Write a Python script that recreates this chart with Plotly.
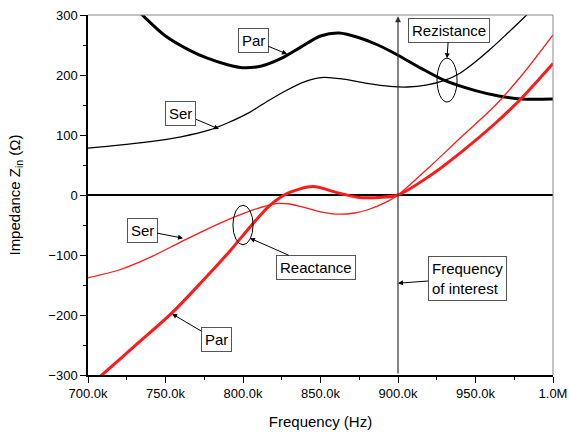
import plotly.graph_objects as go

# ---- data (frequency in kHz, impedance in ohm) ----
f_par_res = [700, 715, 725, 735, 750, 765, 777, 790, 800, 812, 825, 837, 850, 862, 875, 887, 900, 915, 930, 950, 965, 980, 1000]
par_res = [390, 352, 325, 300, 265, 242, 228, 217, 212, 215, 228, 246, 265, 270, 262, 250, 233, 211, 191, 174, 165, 160, 160]

f_ser_res = [700, 720, 740, 760, 778, 790, 803, 815, 827, 840, 852, 865, 880, 895, 906, 918, 930, 940, 950, 960, 970, 983, 1000]
ser_res = [78, 83, 89, 97, 108, 120, 136, 155, 173, 189, 196, 193, 186, 181, 180, 183, 191, 203, 222, 244, 268, 300, 345]

f_ser_reac = [700, 720, 740, 760, 780, 800, 815, 823, 830, 837, 850, 862, 872, 880, 893, 900, 920, 941, 963, 980, 1000]
ser_reac = [-138, -125, -104, -78, -53, -31, -18, -14, -15, -19, -28, -32, -30, -25, -11, 0, 46, 97, 150, 200, 267]

f_par_reac = [700, 709, 730, 754, 774, 792, 805, 817, 829, 845, 862, 875, 888, 900, 920, 941, 963, 980, 1000]
par_reac = [-320, -300, -252, -197, -143, -92, -52, -18, 3, 14, 3, -4, -4, 0, 31, 72, 120, 162, 219]

x_tickvals = [700, 750, 800, 850, 900, 950, 1000]
x_ticktext = ["700.0k", "750.0k", "800.0k", "850.0k", "900.0k", "950.0k", "1.0M"]
y_tickvals = [-300, -200, -100, 0, 100, 200, 300]

f_interest = 900

RED = "rgb(255,25,25)"
FONT = "Liberation Sans, Arial, sans-serif"

fig = go.Figure()
fig.add_trace(go.Scatter(x=f_par_res, y=par_res, mode="lines",
                         line=dict(color="black", width=3, shape="spline", smoothing=0.8)))
fig.add_trace(go.Scatter(x=f_ser_res, y=ser_res, mode="lines",
                         line=dict(color="black", width=1.3, shape="spline", smoothing=0.8)))
fig.add_trace(go.Scatter(x=f_ser_reac, y=ser_reac, mode="lines",
                         line=dict(color=RED, width=1.3, shape="spline", smoothing=0.8)))
fig.add_trace(go.Scatter(x=f_par_reac, y=par_reac, mode="lines",
                         line=dict(color=RED, width=3, shape="spline", smoothing=0.8)))

# frame top/right in gray
fig.add_shape(type="line", xref="x domain", yref="y domain", x0=0, x1=1, y0=1, y1=1,
              line=dict(color="#888888", width=1))
fig.add_shape(type="line", xref="x domain", yref="y domain", x0=1, x1=1, y0=0, y1=1,
              line=dict(color="#888888", width=1))

# ellipses
fig.add_shape(type="circle", xref="x", yref="y", x0=925.2, x1=938.1, y0=155, y1=228,
              line=dict(color="black", width=1))
fig.add_shape(type="circle", xref="x", yref="y", x0=793.5, x1=806.5, y0=-83, y1=-17,
              line=dict(color="black", width=1))

box = dict(bordercolor="#555555", borderwidth=1, borderpad=3, bgcolor="white",
           font=dict(family=FONT, size=15, color="black"),
           showarrow=True, arrowhead=2, arrowsize=1, arrowwidth=1, arrowcolor="black")

fig.add_annotation(x=828.4, y=235, ax=-34, ay=-14, text="Par", **box)
fig.add_annotation(x=784.5, y=110, ax=-38, ay=-16, text="Ser", **box)
fig.add_annotation(x=931.6, y=228, ax=2, ay=-28, text="Rezistance", **box)
fig.add_annotation(x=804.5, y=-72, ax=66, ay=29, text="Reactance", **box)
fig.add_annotation(x=761.3, y=-72, ax=-41, ay=-8, text="Ser", **box)
fig.add_annotation(x=754.2, y=-198, ax=44, ay=26, text="Par", **box)
fig.add_annotation(x=f_interest, y=-147, ax=69, ay=-5, text="Frequency<br>of interest",
                   align="left", **box)

# vertical line with arrow at 900k
fig.add_annotation(x=f_interest, y=298, ax=f_interest, ay=-300, axref="x", ayref="y",
                   text="", showarrow=True, arrowhead=2, arrowsize=1, arrowwidth=1.2,
                   arrowcolor="#333333")

fig.update_layout(
    width=569, height=432,
    margin=dict(l=88, r=16, t=15, b=57, autoexpand=False),
    paper_bgcolor="white", plot_bgcolor="white",
    showlegend=False,
    font=dict(family=FONT, size=13, color="black"),
    xaxis=dict(range=[700, 1000], tickvals=x_tickvals, ticktext=x_ticktext,
               automargin=False,
               showline=True, linecolor="black", linewidth=1.5, mirror=False,
               ticks="outside", ticklen=6, tickwidth=1, tickcolor="black",
               minor=dict(ticks="outside", ticklen=3, dtick=25, tick0=700, tickcolor="black"),
               showgrid=False, zeroline=False,
               title=dict(text="Frequency (Hz)", font=dict(size=15), standoff=16)),
    yaxis=dict(range=[-300, 300], tickvals=y_tickvals,
               automargin=False,
               showline=True, linecolor="black", linewidth=1.5, mirror=False,
               ticks="outside", ticklen=6, tickwidth=1, tickcolor="black",
               minor=dict(ticks="outside", ticklen=3, dtick=50, tick0=0, tickcolor="black"),
               showgrid=False, zeroline=True, zerolinecolor="black", zerolinewidth=1.5,
               title=dict(text="Impedance Z<sub>in</sub> (Ω)", font=dict(size=15), standoff=24)),
)

fig.write_html("out.html", config={"displayModeBar": False},
               post_script="document.body.style.margin='0';")
